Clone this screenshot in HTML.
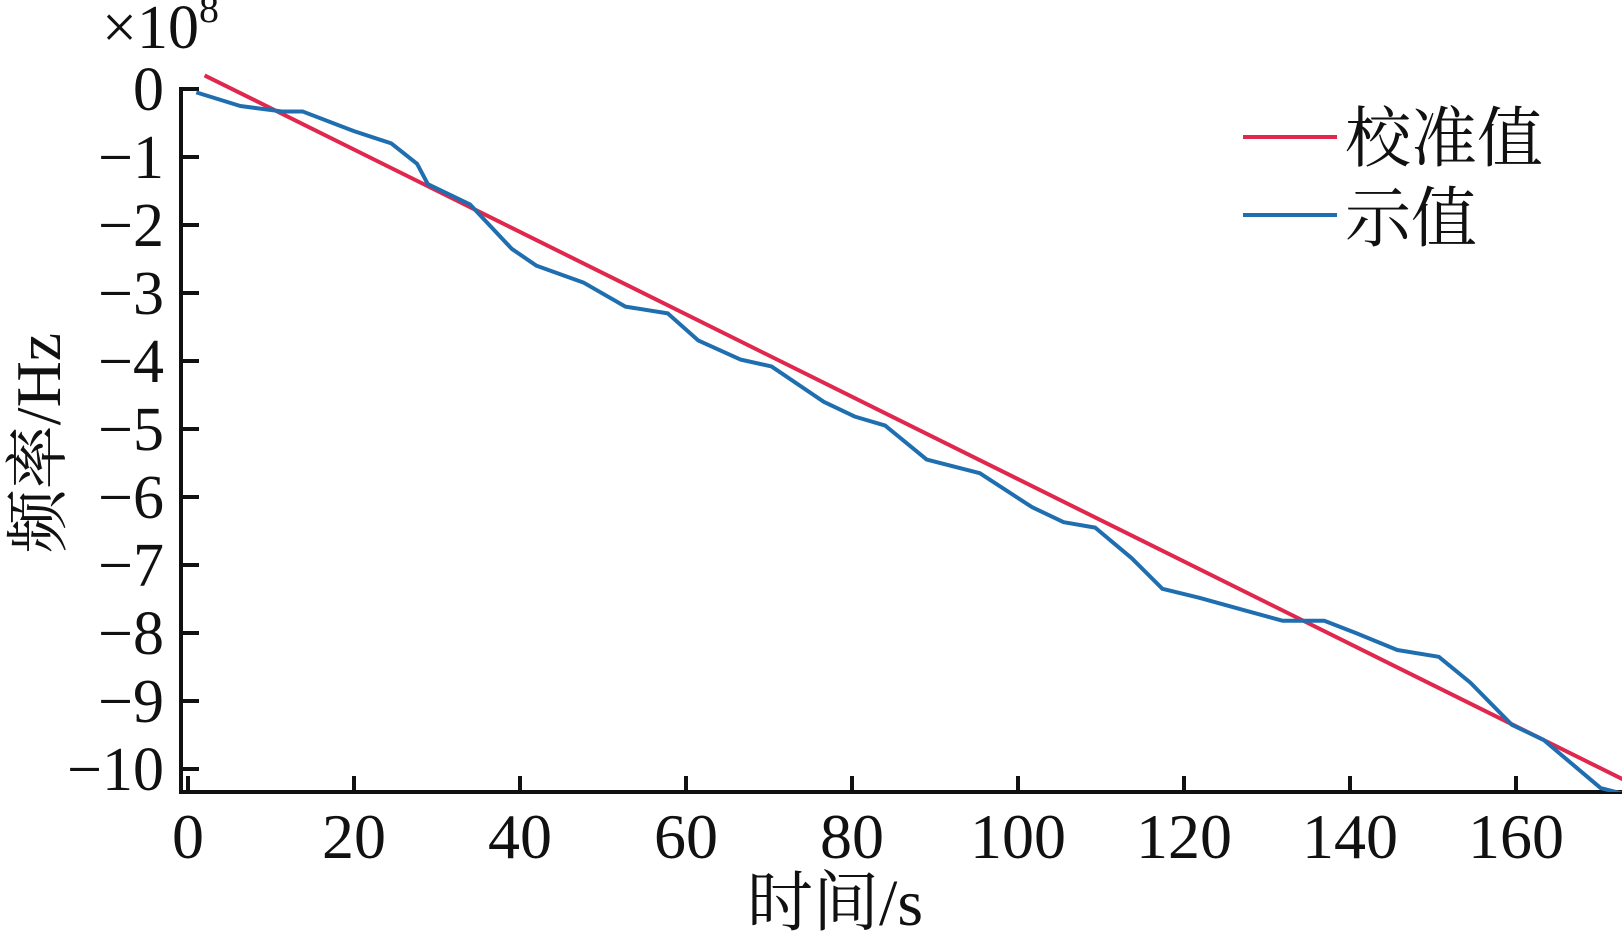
<!DOCTYPE html>
<html><head><meta charset="utf-8"><style>
html,body{margin:0;padding:0;background:#fff}
svg{display:block}
text{font-family:"Liberation Serif","Noto Serif CJK SC","Noto Sans CJK SC",serif;fill:#111}
</style></head><body>
<svg id="chart" width="1622" height="934" viewBox="0 0 1622 934" xmlns="http://www.w3.org/2000/svg">
<defs><clipPath id="plotclip"><rect x="181" y="0" width="1441" height="792"/></clipPath></defs>
<g id="axes"></g>
<g id="series" clip-path="url(#plotclip)"></g>
<text x="102" y="48" font-size="62">×10<tspan font-size="40" dy="-26">8</tspan></text>
<text transform="translate(60,443) rotate(-90)" text-anchor="middle" font-size="64">频率/Hz</text>
<text x="835" y="925" text-anchor="middle" font-size="66">时间/s</text>
<g>
<line x1="1243" y1="137" x2="1337" y2="137" stroke="#e0284e" stroke-width="4"/>
<text x="1345" y="161" font-size="66">校准值</text>
<line x1="1243" y1="215" x2="1337" y2="215" stroke="#1f6fb0" stroke-width="4"/>
<text x="1345" y="241" font-size="66">示值</text>
</g>
</svg>
<script>
const xTicks = [0,20,40,60,80,100,120,140,160];
const yTicks = [0,-1,-2,-3,-4,-5,-6,-7,-8,-9,-10];
const yTickLabels = ["0","−1","−2","−3","−4","−5","−6","−7","−8","−9","−10"];
const refT = [2, 174];
const refV = [0.2, -10.22];
const measT = [1,6.3,11.3,13.8,20,24.5,27.6,28.9,34,39,42,47.7,52.7,57.8,61.5,66.6,70.3,76.6,80.4,84,89,95.4,101.7,105.5,109.3,113.7,117.4,121.8,126.8,131.9,136.9,140.7,145.7,150.7,154.5,159.5,163.3,170.2,174];
const measV = [-0.05,-0.25,-0.33,-0.33,-0.62,-0.8,-1.1,-1.4,-1.7,-2.35,-2.6,-2.85,-3.2,-3.3,-3.7,-3.98,-4.08,-4.6,-4.82,-4.95,-5.45,-5.65,-6.15,-6.37,-6.45,-6.9,-7.35,-7.48,-7.65,-7.82,-7.82,-8.0,-8.25,-8.35,-8.73,-9.35,-9.57,-10.28,-10.4];

const NS = "http://www.w3.org/2000/svg";
const xs = t => 188 + t * 8.3;
const ys = v => 89 - v * 68;
const axes = document.getElementById('axes');
const series = document.getElementById('series');
function mk(tag, attrs, parent){const e=document.createElementNS(NS,tag);for(const k in attrs)e.setAttribute(k,attrs[k]);parent.appendChild(e);return e;}

const yAxis = mk('line',{x1:181,y1:87,x2:181,y2:794,stroke:'#111','stroke-width':4},axes);


const xAxis = mk('line',{x1:179,y1:792,x2:1622,y2:792,stroke:'#111','stroke-width':4},axes);



yTicks.forEach((v,i)=>{
  const t = mk('line',{x1:181,y1:ys(v),x2:199,y2:ys(v),stroke:'#111','stroke-width':4},axes);
  
  
  const l = mk('text',{x:164,y:ys(v)+21,'text-anchor':'end','font-size':62},axes);
  
  
  l.textContent = yTickLabels[i];
});
xTicks.forEach(v=>{
  const t = mk('line',{x1:xs(v),y1:792,x2:xs(v),y2:776,stroke:'#111','stroke-width':4},axes);
  
  
  const l = mk('text',{x:xs(v),y:858,'text-anchor':'middle','font-size':64},axes);
  
  
  l.textContent = String(v);
});

const refLine = mk('polyline',{points:refT.map((t,i)=>xs(t)+','+ys(refV[i])).join(' '),fill:'none',stroke:'#e0284e','stroke-width':4},series);


const measLine = mk('polyline',{points:measT.map((t,i)=>xs(t)+','+ys(measV[i])).join(' '),fill:'none',stroke:'#1f6fb0','stroke-width':4,'stroke-linejoin':'round'},series);


</script>
</body></html>
